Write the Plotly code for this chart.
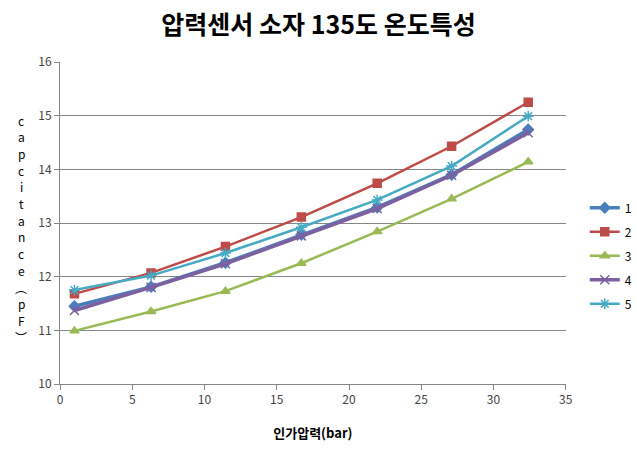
import plotly.graph_objects as go

pressure = [1.0, 6.3, 11.45, 16.7, 21.95, 27.1, 32.4]
series_names = ["1", "2", "3", "4", "5"]
s1 = [11.45, 11.81, 12.26, 12.78, 13.29, 13.90, 14.74]
s2 = [11.68, 12.07, 12.56, 13.11, 13.74, 14.43, 15.25]
s3 = [10.99, 11.35, 11.73, 12.25, 12.84, 13.45, 14.14]
s4 = [11.37, 11.80, 12.24, 12.76, 13.27, 13.89, 14.68]
s5 = [11.75, 12.02, 12.44, 12.92, 13.43, 14.06, 14.99]
values = [s1, s2, s3, s4, s5]
colors = ["#4A7EBB", "#BE4B48", "#98B954", "#7D60A0", "#46AAC5"]
symbols = ["diamond", "square", "triangle-up", "x-thin-open", "asterisk-open"]
widths = [3.5, 2.5, 2.5, 3.5, 2.5]
msizes = [8, 8, 8, 9, 9]

fig = go.Figure()
for i, (name, vals) in enumerate(zip(series_names, values)):
    fig.add_trace(go.Scatter(
        x=pressure, y=vals, name=name, mode="lines+markers",
        legendgroup=name,
        line=dict(color=colors[i], width=widths[i]),
        marker=dict(symbol=symbols[i], size=msizes[i], color=colors[i],
                    line=dict(color=colors[i], width=1.5)),
    ))

fig.update_layout(
    width=637, height=456,
    margin=dict(l=60, r=70, t=62, b=72),
    paper_bgcolor="white", plot_bgcolor="white",
    font=dict(family="Noto Sans CJK KR, Noto Sans, sans-serif", color="#333333"),
    title=dict(text="<b>압력센서 소자 135도 온도특성</b>", x=0.5, xanchor="center",
               y=0.945, yanchor="middle",
               font=dict(size=25, color="#000000")),
    xaxis=dict(range=[0, 35], dtick=5, tick0=0, showgrid=False,
               showline=True, linecolor="#868686", linewidth=1,
               ticks="outside", ticklen=5, tickcolor="#868686",
               tickfont=dict(size=12, color="#444444"), zeroline=False,
               title=dict(text="<b>인가압력(bar)</b>", font=dict(size=13, color="#000000"),
                          standoff=22)),
    yaxis=dict(range=[10, 16], dtick=1, showgrid=True, gridcolor="#868686", gridwidth=1,
               showline=True, linecolor="#868686", linewidth=1,
               ticks="outside", ticklen=5, tickcolor="#868686",
               tickfont=dict(size=12, color="#444444"), zeroline=False),
    legend=dict(xref="container", x=0.918, xanchor="left",
                yref="container", y=0.439, yanchor="middle",
                traceorder="grouped", tracegroupgap=5,
                font=dict(size=12, color="#000000"), bgcolor="rgba(0,0,0,0)"),
    showlegend=True,
)

ylabel_chars = ["c", "a", "p", "c", "i", "t", "a", "n", "c", "e", "︵", "p", "F", "︶"]
y_top_px, step_px = 120, 16.7
for k, ch in enumerate(ylabel_chars):
    ypx = y_top_px + k * step_px
    fig.add_annotation(
        text=ch, xref="paper", yref="paper",
        x=-0.077, y=(384 - ypx) / 322, xanchor="center", yanchor="middle", showarrow=False,
        font=dict(size=12, color="#000000", family="Noto Sans CJK KR, sans-serif"),
    )

fig.write_html("out.html")
